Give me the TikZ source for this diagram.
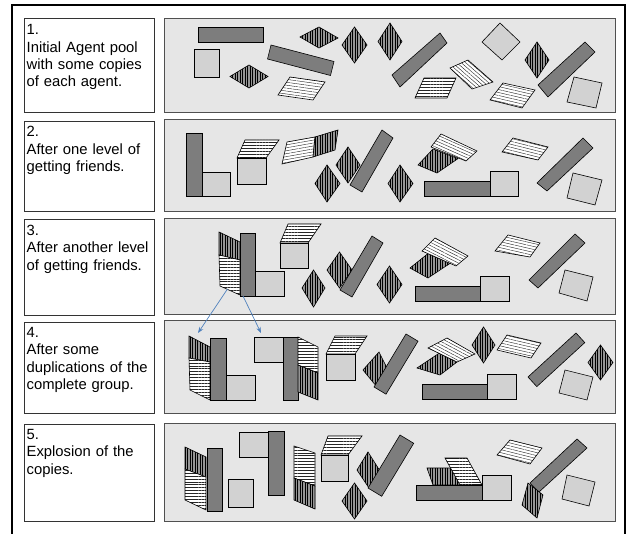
\documentclass[tikz,border=0pt]{standalone}
\usepackage{fontspec}
\setmainfont{Liberation Sans}
\usetikzlibrary{patterns.meta,arrows.meta}
\definecolor{panelc}{RGB}{230,230,230}
\definecolor{panelb}{RGB}{80,80,80}
\definecolor{barc}{RGB}{125,125,125}
\definecolor{sqc}{RGB}{210,210,210}
\definecolor{diac}{RGB}{150,150,150}
\definecolor{arrc}{RGB}{79,129,189}
\begin{document}
\begin{tikzpicture}[x=1pt,y=-1pt,
  lbox/.style={draw=black!80, line width=0.8pt, fill=white, inner sep=0pt, anchor=north west},
  pnl/.style={draw=panelb, line width=0.8pt, fill=panelc, inner sep=0pt, anchor=north west},
  txt/.style={inner sep=0pt, anchor=base west, align=left, text width=126pt, font=\fontsize{14.8}{17.3}\selectfont},
  darkbar/.style={draw=black, line width=0.6pt, fill=barc},
  lightsq/.style={draw=black, line width=0.6pt, fill=sqc},
  stripedia/.style={draw=black, line width=0.6pt, preaction={fill=diac}, pattern={Lines[angle=90,distance=2.5pt,line width=0.55pt]}, pattern color=black},
  stripar/.style={draw=black, line width=0.6pt, preaction={fill=white}, pattern={Lines[angle=#1,distance=2.9pt,line width=0.42pt]}, pattern color=black!85},
  stripar/.default=0,
  link/.style={draw=arrc, line width=0.7pt, -{Stealth[length=6pt,width=4.5pt]}}
]
\useasboundingbox (0,0) rectangle (627,534);
% outer frame
\draw[line width=1.3pt] (12,534) -- (12,5) -- (625,5) -- (625,534);

% left boxes
\node[lbox, minimum width=130pt, minimum height=94pt] (box1) at (24,18) {};
\node[lbox, minimum width=130pt, minimum height=90pt] (box2) at (24,121) {};
\node[lbox, minimum width=130pt, minimum height=95.5pt] (box3) at (24,219.5) {};
\node[lbox, minimum width=130pt, minimum height=91.5pt] (box4) at (24,322) {};
\node[lbox, minimum width=130pt, minimum height=97.5pt] (box5) at (24,424) {};

\node[txt] (t1) at (26.5,35) {1.\\Initial Agent pool\\with some copies\\of each agent.};
\node[txt] (t2) at (26.5,137) {2.\\After one level of\\getting friends.};
\node[txt] (t3) at (26.5,235.5) {3.\\After another level\\of getting friends.};
\node[txt] (t4) at (26.5,337.5) {4.\\After some\\duplications of the\\complete group.};
\node[txt] (t5) at (26.5,439.5) {5.\\Explosion of the\\copies.};

% panels
\node[pnl, minimum width=451.5pt, minimum height=94pt] (p1) at (163.5,18.3) {};
\node[pnl, minimum width=451.5pt, minimum height=91.5pt] (p2) at (163.5,119.5) {};
\node[pnl, minimum width=451.5pt, minimum height=96pt] (p3) at (163.5,218.5) {};
\node[pnl, minimum width=451.5pt, minimum height=93pt] (p4) at (163.5,320.5) {};
\node[pnl, minimum width=451.5pt, minimum height=98pt] (p5) at (163.5,423.5) {};

%%%%% Panel 1
\draw[darkbar] (198,27) rectangle (263,42);
\draw[lightsq] (194,49) rectangle (219,77);
\draw[stripedia] (230,76.5) -- (249,65) -- (268,76.5) -- (249,88) -- cycle;
\draw[darkbar] (271,45) -- (334,61.5) -- (330.5,75.5) -- (267.5,59) -- cycle;
\draw[stripar=-8] (290,77) -- (325,82) -- (313,100) -- (278,95) -- cycle;
\draw[stripedia] (300,37) -- (319,27) -- (338,38) -- (319,48) -- cycle;
\draw[stripedia] (342,45) -- (354.5,27) -- (367,45) -- (354.5,63) -- cycle;
\draw[stripedia] (378,41.5) -- (390,23) -- (402,41.5) -- (390,60) -- cycle;
\draw[darkbar] (392,75) -- (440,33) -- (447,43) -- (400,87) -- cycle;
\draw[stripar] (424,78) -- (456,78) -- (447,98) -- (415,98) -- cycle;
\draw[stripar=-41] (450,68) -- (468,60) -- (493,82) -- (472,89) -- cycle;
\draw[lightsq] (482,42) -- (500,23) -- (520,42) -- (502,60) -- cycle;
\draw[stripedia] (525,60) -- (537,42) -- (549,60) -- (537,78) -- cycle;
\draw[darkbar] (538,85) -- (585,42) -- (595,52) -- (548,97) -- cycle;
\draw[stripar=-13] (503,83) -- (535,90) -- (522,108) -- (490,100) -- cycle;
\draw[lightsq] (574,77) -- (602,83) -- (596,108) -- (567,102) -- cycle;

%%%%% Panel 2
\draw[darkbar] (186,133) rectangle (202,196);
\draw[lightsq] (202,172) rectangle (230,196);
\draw[lightsq] (237,158) rectangle (266,184);
\draw[stripar] (245,140) -- (279,140) -- (266,158) -- (237,158) -- cycle;
\draw[stripar=10] (282,164) -- (287,142) -- (315,137) -- (313,157) -- cycle;
\draw[stripedia] (313,157) -- (315,137) -- (338,130) -- (335,150) -- cycle;
\draw[stripedia] (315,183.5) -- (327,165) -- (340,183.5) -- (327,202) -- cycle;
\draw[stripedia] (336,165) -- (348,147) -- (360,165) -- (348,183) -- cycle;
\draw[darkbar] (350,185) -- (382,130) -- (393,138) -- (362,192) -- cycle;
\draw[stripedia] (388,183.5) -- (400,165) -- (413,183.5) -- (400,202) -- cycle;
\draw[stripedia] (418,165) -- (433,149) -- (458,158.6) -- (437,173) -- cycle;
\draw[stripar=-24] (431,147) -- (441,134) -- (477,151) -- (466,161) -- cycle;
\draw[darkbar] (424,181) rectangle (490,196);
\draw[lightsq] (490,171) rectangle (518,196);
\draw[stripar=-14] (513,138) -- (548,147) -- (538,160) -- (502,152) -- cycle;
\draw[darkbar] (537,183) -- (583,138) -- (593,148) -- (547,191) -- cycle;
\draw[lightsq] (573,173) -- (602,180) -- (595,205) -- (567,198) -- cycle;

%%%%% Panel 3
\draw[stripedia] (219,232) -- (240,242) -- (240,260) -- (219,255) -- cycle;
\draw[stripar] (219,255) -- (240,260) -- (240,295) -- (220,286) -- cycle;
\draw[darkbar] (240,233) rectangle (255,296);
\draw[lightsq] (255,271) rectangle (284,296);
\draw[lightsq] (280,243) rectangle (308,268);
\draw[stripar] (288,224) -- (321,224) -- (308,243) -- (280,243) -- cycle;
\draw[stripedia] (302,288) -- (313.5,270) -- (325,288) -- (313.5,307) -- cycle;
\draw[stripedia] (327,270) -- (339.5,252) -- (352,270) -- (339.5,288) -- cycle;
\draw[darkbar] (340,290) -- (372,236) -- (383,243) -- (352,297) -- cycle;
\draw[stripedia] (377,284.5) -- (389.5,266) -- (402,284.5) -- (389.5,303) -- cycle;
\draw[stripedia] (410,268) -- (428,253.6) -- (450,263.4) -- (428,278) -- cycle;
\draw[stripar=-27] (422,251) -- (435,238) -- (468,256) -- (456,266) -- cycle;
\draw[darkbar] (415,286) rectangle (480,301);
\draw[lightsq] (480,276) rectangle (509,301);
\draw[stripar=-13] (508,235) -- (540,243) -- (530,257) -- (495,251) -- cycle;
\draw[darkbar] (529,280) -- (575,234) -- (585,243) -- (538,288) -- cycle;
\draw[lightsq] (565,270) -- (593,277) -- (587,301) -- (559,293) -- cycle;

\coordinate (a1s) at (227.5,289);
\coordinate (a1e) at (198,333);
\coordinate (a2s) at (243,296);
\coordinate (a2e) at (261,333);

%%%%% Panel 4
\draw[stripedia] (189,336) -- (210,347) -- (210,362) -- (189,358) -- cycle;
\draw[stripar] (189,358) -- (210,362) -- (210,400) -- (190,390) -- cycle;
\draw[darkbar] (210,338) rectangle (226,400);
\draw[lightsq] (226,375) rectangle (255,400);
\draw[lightsq] (254,337) rectangle (283,362);
\draw[darkbar] (283,337) rectangle (298,400);
\draw[stripar] (298,337) -- (318,347) -- (318,373) -- (298,365) -- cycle;
\draw[stripedia] (298,365) -- (318,373) -- (318,400) -- (298,392) -- cycle;
\draw[lightsq] (326,354) rectangle (355,380);
\draw[stripar] (335,336) -- (367,336) -- (355,354) -- (326,354) -- cycle;
\draw[stripedia] (363,370) -- (379,352) -- (387,368) -- (377,387) -- cycle;
\draw[darkbar] (374,387) -- (406,334) -- (418,341.2) -- (386,394.2) -- cycle;
\draw[stripedia] (417,368) -- (439,353.3) -- (457,362) -- (440,375) -- cycle;
\draw[stripar=-28] (428,348) -- (447,338) -- (475,354) -- (457,362) -- cycle;
\draw[stripedia] (472,345) -- (483.5,327) -- (495,345) -- (483.5,363) -- cycle;
\draw[stripar=-13] (507,335) -- (541,343) -- (531,358) -- (497,350) -- cycle;
\draw[darkbar] (422,384) rectangle (487,399);
\draw[lightsq] (487,374) rectangle (516,399);
\draw[darkbar] (528,377) -- (576,333) -- (584.8,342.6) -- (536.8,386.6) -- cycle;
\draw[lightsq] (565,370) -- (593,377) -- (587,400) -- (559,393) -- cycle;
\draw[stripedia] (588,362.5) -- (600.5,345) -- (613,362.5) -- (600.5,380) -- cycle;

%%%%% Panel 5
\draw[stripedia] (185,447) -- (206,457) -- (206,477) -- (185,469) -- cycle;
\draw[stripar] (185,469) -- (206,477) -- (206,510) -- (185,500) -- cycle;
\draw[darkbar] (207,448) rectangle (222,511);
\draw[lightsq] (228,479) rectangle (253,507);
\draw[lightsq] (239,432) rectangle (268,457);
\draw[darkbar] (268,431) rectangle (284,495);
\draw[stripar] (294,446) -- (315,453) -- (315,486) -- (294,478) -- cycle;
\draw[stripedia] (294,478) -- (315,486) -- (315,509) -- (294,500) -- cycle;
\draw[lightsq] (321,455) rectangle (348,481);
\draw[stripar] (328,436) -- (362,436) -- (348,455) -- (321,455) -- cycle;
\draw[stripedia] (357,470) -- (368,452) -- (380,471) -- (369,488) -- cycle;
\draw[darkbar] (368,488) -- (400,435) -- (413.7,443.3) -- (381.7,496.3) -- cycle;
\draw[stripedia] (342,501) -- (354.5,483) -- (367,501) -- (354.5,519) -- cycle;
\draw[stripedia] (427,468) -- (453,468) -- (460,485) -- (433,485) -- cycle;
\draw[stripar] (445,458) -- (467,458) -- (482,485) -- (460,485) -- cycle;
\draw[darkbar] (416,485) rectangle (482,500);
\draw[lightsq] (482,475) rectangle (511,500);
\draw[stripar=-14] (510,440) -- (542,448) -- (530,464) -- (497,455) -- cycle;
\draw[darkbar] (530,483) -- (577,439) -- (587,448) -- (539,492) -- cycle;
\draw[stripedia] (528,483) -- (543,495) -- (537,518) -- (522,505) -- cycle;
\draw[lightsq] (567,475) -- (595,482) -- (589,506) -- (562,499) -- cycle;

% arrows
\draw[link] (a1s) -- (a1e);
\draw[link] (a2s) -- (a2e);
\end{tikzpicture}
\end{document}
